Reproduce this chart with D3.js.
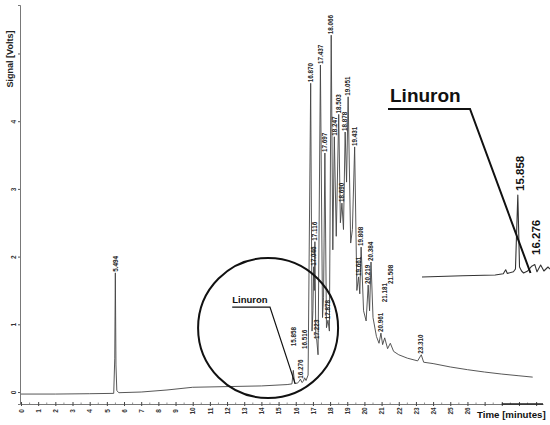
<!DOCTYPE html>
<html>
<head>
<meta charset="utf-8">
<script src="https://cdn.jsdelivr.net/npm/d3@7"></script>
<style>
  body { margin: 0; background: #fff; }
  text { font-family: "Liberation Sans", Arial, sans-serif; }
</style>
</head>
<body>
<div id="chart"></div>
<script>
//////////////////////////// data /////////////////////////////////////////

// main trace, time [min] and signal [V]
const traceT = [0, 2, 4, 5.40, 5.46, 5.494, 5.53, 5.58, 5.70, 7.0, 8.5, 10.0, 12.0, 14.0, 15.5,
  15.78, 15.858, 15.93, 16.10, 16.20, 16.276, 16.36, 16.45, 16.516, 16.60, 16.72, 16.870,
  16.95, 17.00, 17.046, 17.08, 17.116, 17.17, 17.223, 17.30, 17.437, 17.56, 17.62, 17.697,
  17.79, 17.878, 17.96, 18.066, 18.16, 18.247, 18.36, 18.503, 18.60, 18.690, 18.78, 18.878,
  18.96, 19.051, 19.20, 19.30, 19.431, 19.56, 19.661, 19.73, 19.808, 19.95, 20.10, 20.219,
  20.30, 20.384, 20.50, 20.70, 20.85, 20.961, 21.06, 21.181, 21.35, 21.508, 21.70, 22.00,
  22.50, 23.10, 23.31, 23.45, 24.0, 25.0, 26.0, 27.0, 28.0, 29.0, 29.8];
const traceV = [-0.03, -0.03, -0.025, -0.02, 0.50, 1.76, 0.40, 0.02, -0.01, 0.0, 0.03, 0.07, 0.08, 0.09, 0.11,
  0.12, 0.32, 0.13, 0.13, 0.16, 0.19, 0.14, 0.16, 0.21, 0.17, 0.25, 4.56,
  0.9, 1.2, 1.85, 1.5, 2.22, 0.8, 0.77, 0.55, 4.83, 1.1, 1.4, 3.53,
  0.95, 1.06, 0.9, 5.27, 2.1, 3.77, 2.3, 4.10, 2.5, 2.79, 2.4, 3.84,
  3.1, 4.36, 2.2, 2.4, 3.62, 1.5, 1.70, 1.45, 2.14, 1.2, 1.05, 1.58,
  1.2, 1.92, 1.1, 0.82, 0.72, 0.87, 0.70, 0.80, 0.64, 0.72, 0.60, 0.55,
  0.50, 0.46, 0.55, 0.44, 0.42, 0.37, 0.33, 0.295, 0.265, 0.24, 0.22];

// labelled retention times and the signal level the label sits on
const peakRT = [5.494, 15.858, 16.276, 16.516, 16.870, 17.046, 17.116, 17.223, 17.437, 17.697,
  17.878, 18.066, 18.247, 18.503, 18.690, 18.878, 19.051, 19.431, 19.661, 19.808,
  20.219, 20.384, 20.961, 21.181, 21.508, 23.310];
const peakLabelV = [1.76, 0.66, 0.18, 0.62, 4.56, 1.85, 2.22, 0.77, 4.83, 3.53,
  1.06, 5.27, 3.77, 4.10, 2.79, 3.84, 4.36, 3.62, 1.70, 2.14,
  1.58, 1.92, 0.87, 1.31, 1.58, 0.55];

// zoomed linuron window (inset)
const insetT = [13.5, 14.5, 15.3, 15.50, 15.56, 15.60, 15.75, 15.80, 15.858, 15.90, 15.95,
  16.00, 16.10, 16.20, 16.276, 16.33, 16.42, 16.50, 16.60, 16.65];
const insetV = [0.095, 0.098, 0.100, 0.103, 0.113, 0.104, 0.108, 0.115, 0.30, 0.12, 0.11,
  0.105, 0.11, 0.122, 0.126, 0.108, 0.125, 0.11, 0.12, 0.115];
const insetPeaks = [15.858, 16.276];
const insetPeakLabelV = [0.305, 0.145];

const xTicks = d3.range(0, 31);
const xTickLabelMax = 26;
const yTicks = [0, 1, 2, 3, 4, 5];
const yTickLabelMax = 4;

//////////////////////////// svg ///////////////////////////////////

const width = 550, height = 425;
const svg = d3.select("#chart").append("svg")
  .attr("width", width).attr("height", height);
svg.append("rect").attr("width", width).attr("height", height).attr("fill", "#fff");

const x = d3.scaleLinear().domain([0, 30.4]).range([21, 543]);
const y = d3.scaleLinear().domain([-0.177, 5.716]).range([404, 5]);

// inset scales
const xi = d3.scaleLinear().domain([13.5, 16.65]).range([422, 550]);
const yi = d3.scaleLinear().domain([0.1, 0.3]).range([275, 195]);

const fmt = d3.format(".3f");

//////////////////////////// axes /////////////////////////////////////////

const xAxis = svg.append("g")
  .attr("transform", `translate(0,404)`)
  .call(d3.axisBottom(x).tickValues(xTicks).tickSize(0)
    .tickFormat(d => d <= xTickLabelMax ? d : ""));
xAxis.select(".domain").attr("stroke", "#555").attr("stroke-width", 0.8);
xAxis.selectAll(".tick line").attr("y1", -2).attr("y2", 2).attr("stroke", "#444");
xAxis.selectAll(".tick text")
  .attr("transform", "translate(0,7) rotate(-90)")
  .attr("y", 0).attr("dy", "0.35em")
  .attr("text-anchor", "middle")
  .attr("font-size", 6.5).attr("font-weight", "bold").attr("fill", "#333");

// minor ticks
svg.append("g").selectAll("line")
  .data(d3.range(0.5, 30, 1))
  .join("line")
  .attr("x1", d => x(d)).attr("x2", d => x(d))
  .attr("y1", 402.5).attr("y2", 404)
  .attr("stroke", "#777").attr("stroke-width", 0.8);

// thick end piece of the time axis
svg.append("line")
  .attr("x1", x(28)).attr("x2", x(30.4))
  .attr("y1", 404).attr("y2", 404)
  .attr("stroke", "#222").attr("stroke-width", 1.6);

const yAxis = svg.append("g")
  .attr("transform", `translate(20,0)`)
  .call(d3.axisLeft(y).tickValues(yTicks).tickSize(2)
    .tickFormat(d => d <= yTickLabelMax ? d : ""));
yAxis.select(".domain").attr("stroke", "#555").attr("stroke-width", 0.8);
yAxis.selectAll(".tick line").attr("stroke", "#555");
yAxis.selectAll(".tick text")
  .attr("transform", "translate(-4,0) rotate(-90)")
  .attr("x", 0).attr("dy", "0")
  .attr("text-anchor", "middle")
  .attr("font-size", 6.5).attr("font-weight", "bold").attr("fill", "#333");

svg.append("text")
  .attr("transform", "translate(13,59) rotate(-90)")
  .attr("text-anchor", "middle")
  .attr("font-size", 9).attr("font-weight", "bold").attr("fill", "#222")
  .text("Signal [Volts]");

svg.append("text")
  .attr("x", 477).attr("y", 418)
  .attr("font-size", 9.7).attr("font-weight", "bold").attr("fill", "#111")
  .text("Time [minutes]");

//////////////////////////// trace /////////////////////////////////////////

const trace = traceT.map((t, i) => [t, traceV[i]]);
const line = d3.line().x(d => x(d[0])).y(d => y(d[1]));

svg.append("path")
  .datum(trace)
  .attr("d", line)
  .attr("fill", "none")
  .attr("stroke", "#444")
  .attr("stroke-width", 0.9)
  .attr("stroke-linejoin", "round");

svg.append("g").selectAll("text")
  .data(peakRT)
  .join("text")
  .attr("transform", (d, i) => `translate(${x(d)},${y(peakLabelV[i]) - 1}) rotate(-90)`)
  .attr("dy", "0.35em")
  .attr("font-size", 6.3).attr("font-weight", "bold").attr("fill", "#222")
  .text(d => fmt(d));

//////////////////////////// linuron circle ///////////////////////////////

svg.append("circle")
  .attr("cx", x(14.39)).attr("cy", y(0.945)).attr("r", 70)
  .attr("fill", "none").attr("stroke", "#111").attr("stroke-width", 2);

svg.append("text")
  .attr("x", x(12.3)).attr("y", y(1.31))
  .attr("font-size", 9.5).attr("font-weight", "bold").attr("fill", "#111")
  .text("Linuron");

svg.append("polyline")
  .attr("points", [[x(12.3), y(1.255)], [x(14.5), y(1.255)], [x(15.97), y(0.12)]].join(" "))
  .attr("fill", "none").attr("stroke", "#111").attr("stroke-width", 1.2);

//////////////////////////// inset /////////////////////////////////////////

const inset = insetT.map((t, i) => [t, insetV[i]]);
svg.append("path")
  .datum(inset)
  .attr("d", d3.line().x(d => xi(d[0])).y(d => yi(d[1])))
  .attr("fill", "none")
  .attr("stroke", "#333")
  .attr("stroke-width", 1.1)
  .attr("stroke-linejoin", "round");

svg.append("g").selectAll("text")
  .data(insetPeaks)
  .join("text")
  .attr("transform", (d, i) => `translate(${xi(d) + (i ? 1 : 2)},${yi(insetPeakLabelV[i]) - 2}) rotate(-90)`)
  .attr("dy", "0.35em")
  .attr("font-size", 11.5).attr("font-weight", "bold").attr("fill", "#111")
  .text(d => fmt(d));

svg.append("text")
  .attr("x", 390).attr("y", 102)
  .attr("font-size", 19).attr("font-weight", "bold").attr("fill", "#111")
  .text("Linuron");

svg.append("polyline")
  .attr("points", [[388, 109], [470, 109], [xi(16.17), yi(0.105)]].join(" "))
  .attr("fill", "none").attr("stroke", "#111").attr("stroke-width", 2);
</script>
</body>
</html>
